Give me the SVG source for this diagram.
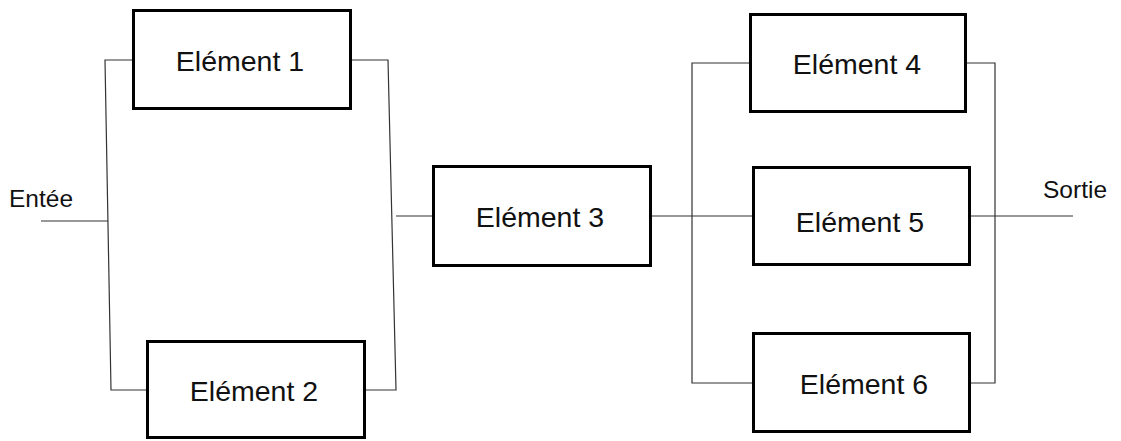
<svg xmlns="http://www.w3.org/2000/svg" width="1121" height="441" viewBox="0 0 1121 441">
  <style>
    .box { fill: #ffffff; stroke: #000000; stroke-width: 3; }
    .wire { fill: none; stroke: #333333; stroke-width: 1.2; }
    .label { font-family: "Liberation Sans", Arial, sans-serif; font-size: 28.5px; fill: #111111; text-anchor: middle; }
    .io { font-family: "Liberation Sans", Arial, sans-serif; font-size: 24.5px; fill: #111111; }
  </style>
  <rect width="1121" height="441" fill="#ffffff"/>

  <!-- wiring -->
  <g id="connectors">
    <!-- input and first parallel pair -->
    <line class="wire" x1="41" y1="221" x2="108" y2="221"/>
    <polyline class="wire" points="132,60 105,60 111,390 146,390"/>
    <polyline class="wire" points="352,60 388,60 396,390 366,390"/>
    <!-- series link through element 3 -->
    <line class="wire" x1="396" y1="216" x2="432" y2="216"/>
    <line class="wire" x1="652" y1="216" x2="752" y2="216"/>
    <!-- second parallel group -->
    <polyline class="wire" points="749,63 692,63 692,383 752,383"/>
    <polyline class="wire" points="967,63 995,63 995,383 971,383"/>
    <line class="wire" x1="971" y1="216" x2="1073" y2="216"/>
  </g>

  <text class="io" x="9" y="207">Entée</text>
  <text class="io" x="1043" y="198">Sortie</text>

  <g id="element1">
    <rect class="box" x="133.5" y="10.5" width="217" height="98"/>
    <text class="label" x="240" y="71">Elément 1</text>
  </g>
  <g id="element2">
    <rect class="box" x="147.5" y="341.5" width="217" height="96"/>
    <text class="label" x="254" y="401">Elément 2</text>
  </g>
  <g id="element3">
    <rect class="box" x="433.5" y="166.5" width="217" height="99"/>
    <text class="label" x="540" y="227">Elément 3</text>
  </g>
  <g id="element4">
    <rect class="box" x="750.5" y="14.5" width="215" height="97"/>
    <text class="label" x="857" y="74">Elément 4</text>
  </g>
  <g id="element5">
    <rect class="box" x="753.5" y="167.5" width="216" height="97"/>
    <text class="label" x="860" y="232">Elément 5</text>
  </g>
  <g id="element6">
    <rect class="box" x="753.5" y="333.5" width="216" height="98"/>
    <text class="label" x="864" y="394">Elément 6</text>
  </g>
</svg>
